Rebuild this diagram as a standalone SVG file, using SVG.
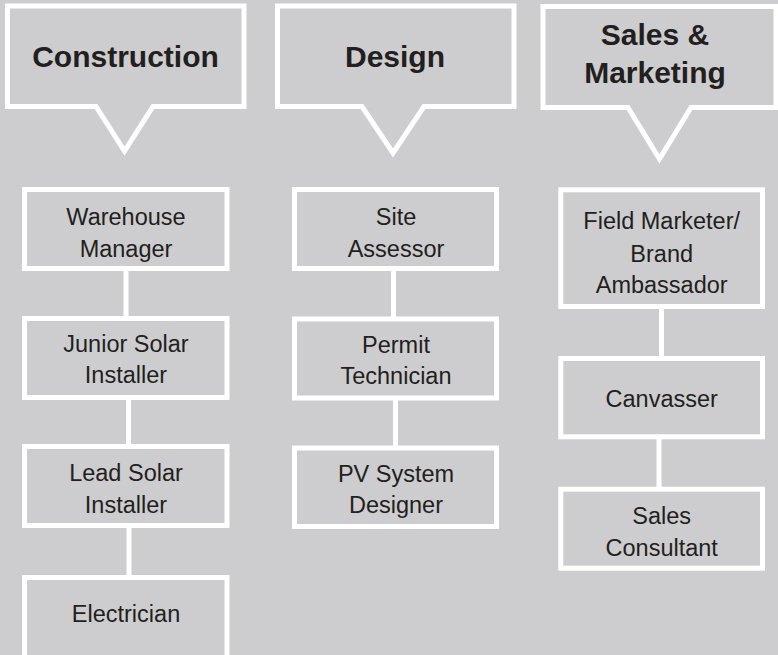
<svg xmlns="http://www.w3.org/2000/svg" width="778" height="655" viewBox="0 0 778 655">
<style>
.bg{fill:#cdcdcf}
.callout{fill:#cdcdcf;stroke:#ffffff;stroke-width:5;stroke-linejoin:miter}
.box{fill:#cdcdcf;stroke:#ffffff;stroke-width:5}
.conn{stroke:#ffffff;stroke-width:5;fill:none}
.h{font-family:"Liberation Sans",Arial,sans-serif;font-weight:bold;font-size:30px;fill:#231f20;text-anchor:middle}
.t{font-family:"Liberation Sans",Arial,sans-serif;font-size:23.5px;fill:#231f20;text-anchor:middle}
</style>
<rect class="bg" x="0" y="0" width="778" height="655"/>
<g id="connectors">
<line class="conn" x1="126" y1="268.5" x2="126" y2="318.5"/>
<line class="conn" x1="128.5" y1="397.5" x2="128.5" y2="446.5"/>
<line class="conn" x1="129" y1="525.5" x2="129" y2="577.5"/>
<line class="conn" x1="393.5" y1="268.5" x2="393.5" y2="319"/>
<line class="conn" x1="395.5" y1="398" x2="395.5" y2="448"/>
<line class="conn" x1="661.5" y1="306.5" x2="661.5" y2="358.5"/>
<line class="conn" x1="659" y1="436.8" x2="659" y2="489.2"/>
</g>
<g id="construction">
<path class="callout" d="M7.5,6 H244 V106.5 H153 L124.5,151 L96,106.5 H7.5 Z"/>
<text class="h" x="125.5" y="66.5">Construction</text>
</g>
<g id="design">
<path class="callout" d="M277.5,6 H514 V106.5 H424 L393,153 L362,106.5 H277.5 Z"/>
<text class="h" x="395" y="66.5">Design</text>
</g>
<g id="sales-marketing">
<path class="callout" d="M543,6.5 H776 V107.5 H691 L659.5,159 L628,107.5 H543 Z"/>
<text class="h" x="655" y="45">Sales &amp;</text>
<text class="h" x="655" y="83">Marketing</text>
</g>
<g id="warehouse-manager">
<rect class="box" x="24.5" y="189.5" width="202.5" height="79"/>
<text class="t" x="126" y="225">Warehouse</text>
<text class="t" x="126" y="257">Manager</text>
</g>
<g id="junior-solar-installer">
<rect class="box" x="24.5" y="318.5" width="202.5" height="79"/>
<text class="t" x="126" y="351.5">Junior Solar</text>
<text class="t" x="126" y="383">Installer</text>
</g>
<g id="lead-solar-installer">
<rect class="box" x="24.5" y="446.5" width="202.5" height="79"/>
<text class="t" x="126" y="481">Lead Solar</text>
<text class="t" x="126" y="512.5">Installer</text>
</g>
<g id="electrician">
<rect class="box" x="24.5" y="577.5" width="202.5" height="82"/>
<text class="t" x="126" y="621.5">Electrician</text>
</g>
<g id="site-assessor">
<rect class="box" x="294.5" y="189.5" width="202" height="79"/>
<text class="t" x="396" y="225">Site</text>
<text class="t" x="396" y="256.5">Assessor</text>
</g>
<g id="permit-technician">
<rect class="box" x="294.5" y="319" width="202" height="79"/>
<text class="t" x="396" y="352.5">Permit</text>
<text class="t" x="396" y="384">Technician</text>
</g>
<g id="pv-system-designer">
<rect class="box" x="294.5" y="448" width="202" height="78.5"/>
<text class="t" x="396" y="481.5">PV System</text>
<text class="t" x="396" y="513.3">Designer</text>
</g>
<g id="field-marketer">
<rect class="box" x="560.8" y="189.8" width="201.7" height="116.7"/>
<text class="t" x="661.7" y="229.3">Field Marketer/</text>
<text class="t" x="661.7" y="261.7">Brand</text>
<text class="t" x="661.7" y="293.3">Ambassador</text>
</g>
<g id="canvasser">
<rect class="box" x="560.8" y="358.5" width="201.7" height="78.3"/>
<text class="t" x="661.7" y="406.7">Canvasser</text>
</g>
<g id="sales-consultant">
<rect class="box" x="560.8" y="489.2" width="201.7" height="79"/>
<text class="t" x="661.7" y="524">Sales</text>
<text class="t" x="661.7" y="555.7">Consultant</text>
</g>
</svg>
